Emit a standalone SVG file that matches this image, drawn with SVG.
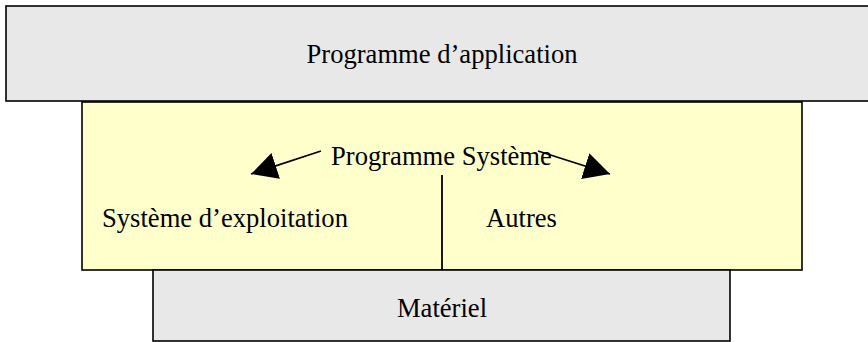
<svg xmlns="http://www.w3.org/2000/svg" width="868" height="342" viewBox="0 0 868 342">
  <style>
    .box { stroke: #000; stroke-width: 1.6; }
    .gray { fill: #e8e8e8; }
    .yellow { fill: #ffffcc; }
    .label { font-family: "Liberation Serif", "Times New Roman", serif; font-size: 26.6px; fill: #000; }
    .mid { text-anchor: middle; }
    .conn { stroke: #000; stroke-width: 1.8; fill: none; }
  </style>
  <defs>
    <marker id="head" markerUnits="userSpaceOnUse" markerWidth="28" markerHeight="28" viewBox="0 0 28 28" refX="26" refY="14" orient="auto">
      <path d="M0,0.5 L26,14 L0,27.5 Z" fill="#000"/>
    </marker>
  </defs>

  <g id="application">
    <rect class="box gray" x="6" y="6" width="866" height="95"/>
    <text class="label mid" x="442" y="63">Programme d’application</text>
  </g>

  <g id="systeme">
    <rect class="box yellow" x="82" y="102" width="720" height="168"/>
    <text class="label" x="331" y="165">Programme Système</text>
  </g>

  <g id="exploitation">
    <text class="label" x="102" y="227">Système d’exploitation</text>
  </g>

  <g id="autres">
    <text class="label" x="486" y="227">Autres</text>
  </g>

  <g id="materiel">
    <rect class="box gray" x="153" y="270" width="577" height="71"/>
    <text class="label mid" x="442" y="317">Matériel</text>
  </g>

  <g id="connectors">
    <line class="conn" x1="442" y1="175" x2="442" y2="270"/>
    <line class="conn" x1="321" y1="151" x2="251" y2="174" marker-end="url(#head)"/>
    <line class="conn" x1="538" y1="151" x2="610" y2="174" marker-end="url(#head)"/>
  </g>
</svg>
